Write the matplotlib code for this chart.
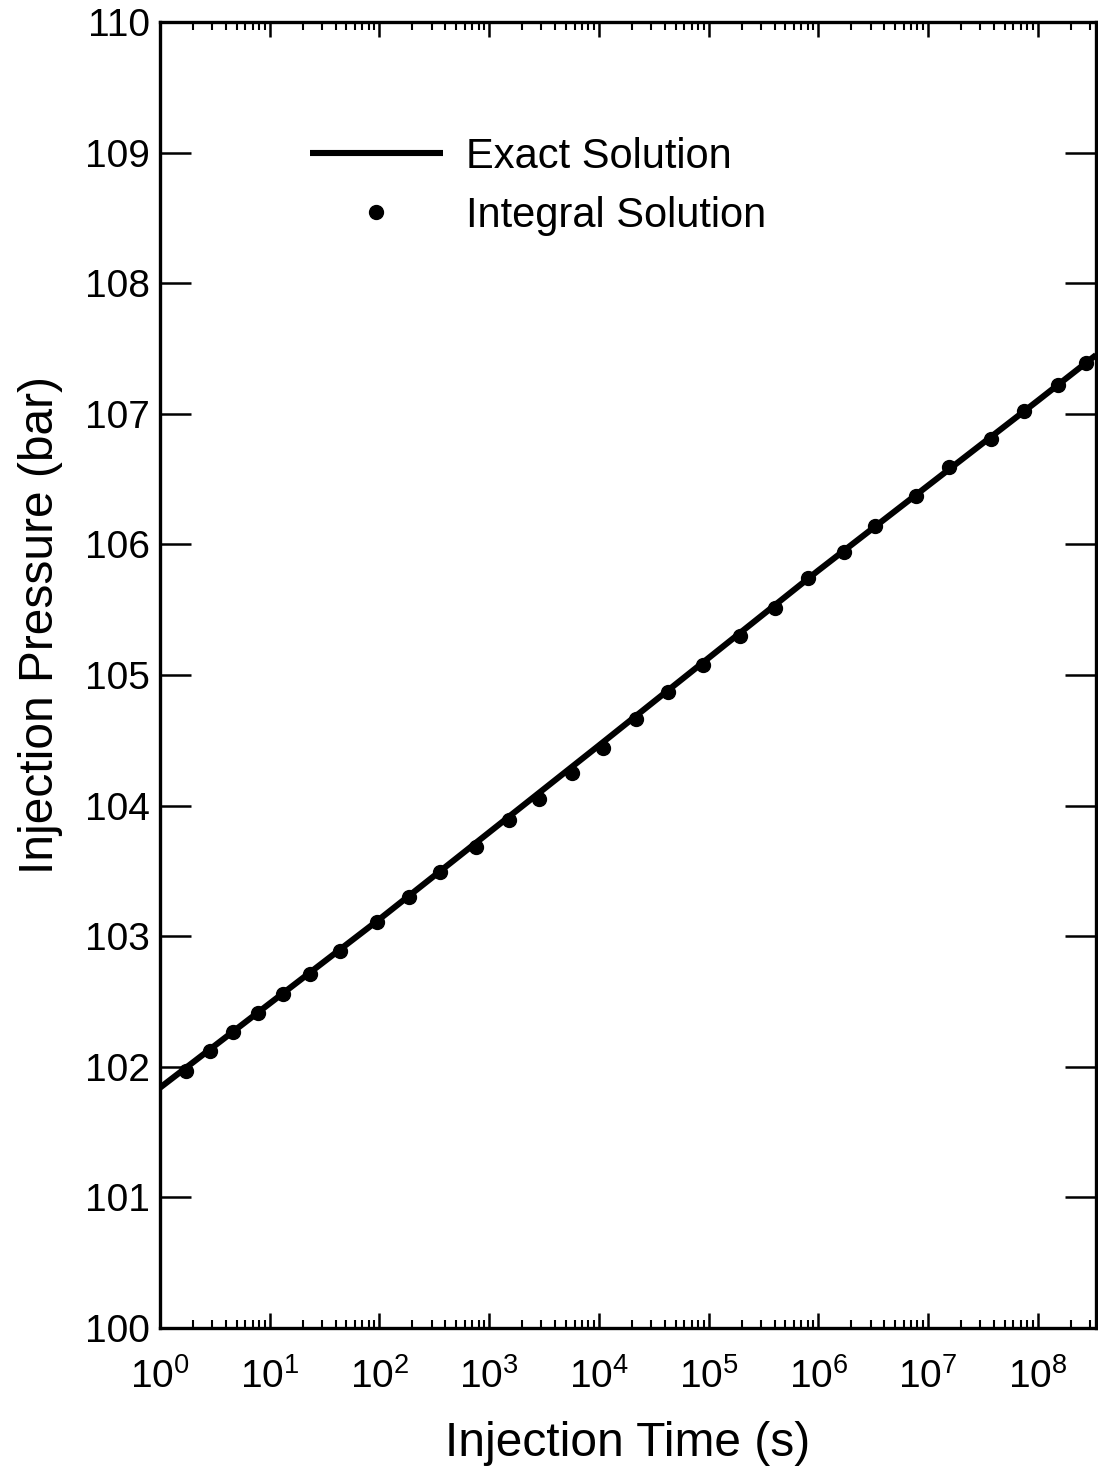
import matplotlib
matplotlib.use('Agg')
import matplotlib.pyplot as plt
from matplotlib.ticker import LogLocator, NullFormatter, FixedLocator

plt.rcParams['font.family'] = ['Liberation Sans', 'DejaVu Sans']
plt.rcParams['mathtext.fontset'] = 'custom'
plt.rcParams['mathtext.rm'] = 'Liberation Sans'

# exact solution (straight line in log time)
t_exact = [1.0, 1e2, 1e4, 1e6, 1e8, 3.4e8]
p_exact = [101.84, 103.13, 104.46, 105.80, 107.10, 107.45]

# integral solution points
t_integral = [1.72, 2.84, 4.64, 7.74, 13.3, 23.3, 44, 96, 185, 357, 753,
              1507, 2851, 5750, 10950, 21600, 42900, 89700, 1.94e5, 4.05e5,
              7.98e5, 1.73e6, 3.3e6, 7.7e6, 1.55e7, 3.72e7, 7.5e7, 1.53e8,
              2.78e8]
p_integral = [101.97, 102.12, 102.27, 102.41, 102.56, 102.71, 102.89,
              103.11, 103.30, 103.49, 103.68, 103.89, 104.05, 104.25,
              104.44, 104.66, 104.87, 105.08, 105.30, 105.51, 105.74,
              105.94, 106.14, 106.37, 106.59, 106.81, 107.02, 107.22,
              107.39]

y_ticks = [100, 101, 102, 103, 104, 105, 106, 107, 108, 109, 110]

fig = plt.figure(figsize=(10.98, 14.70), dpi=100)
ax = fig.add_axes([160/1098, 1 - 1328/1470, 936/1098, 1306/1470])

ax.plot(t_exact, p_exact, color='black', linewidth=4.4, label='Exact Solution',
        solid_capstyle='butt')
ax.plot(t_integral, p_integral, linestyle='none', marker='o', markersize=10,
        color='black', label='Integral Solution')

ax.set_xscale('log')
ax.set_xlim(1, 3.4e8)
ax.set_ylim(100, 110)

ax.xaxis.set_major_locator(LogLocator(base=10, numticks=20))
ax.xaxis.set_minor_locator(LogLocator(base=10, subs=range(2, 10), numticks=20))
ax.xaxis.set_minor_formatter(NullFormatter())
ax.yaxis.set_major_locator(FixedLocator(y_ticks))
ax.set_yticklabels([str(v) for v in y_ticks])

for s in ax.spines.values():
    s.set_linewidth(2.4)

ax.tick_params(axis='x', which='major', direction='in', top=True, length=11,
               width=1.8, labelsize=28, pad=22)
ax.tick_params(axis='x', which='minor', direction='in', top=True, length=6,
               width=1.5)
ax.tick_params(axis='y', which='major', direction='in', right=True, length=22,
               width=1.8, labelsize=28, pad=7)
ax.tick_params(axis='y', which='minor', left=False, right=False)

ax.set_xlabel('Injection Time (s)', fontsize=34.5)
ax.set_ylabel('Injection Pressure (bar)', fontsize=34.5)
ax.xaxis.set_label_coords(0.5, -0.071)
ax.yaxis.set_label_coords(-0.104, 0.538)

ax.legend(loc='upper left', bbox_to_anchor=(0.160, 0.912), frameon=False,
          fontsize=30, handlelength=3.2, handletextpad=0.55, labelspacing=0.45,
          borderpad=0, borderaxespad=0, numpoints=1)

fig.savefig('out.png', dpi=100)
